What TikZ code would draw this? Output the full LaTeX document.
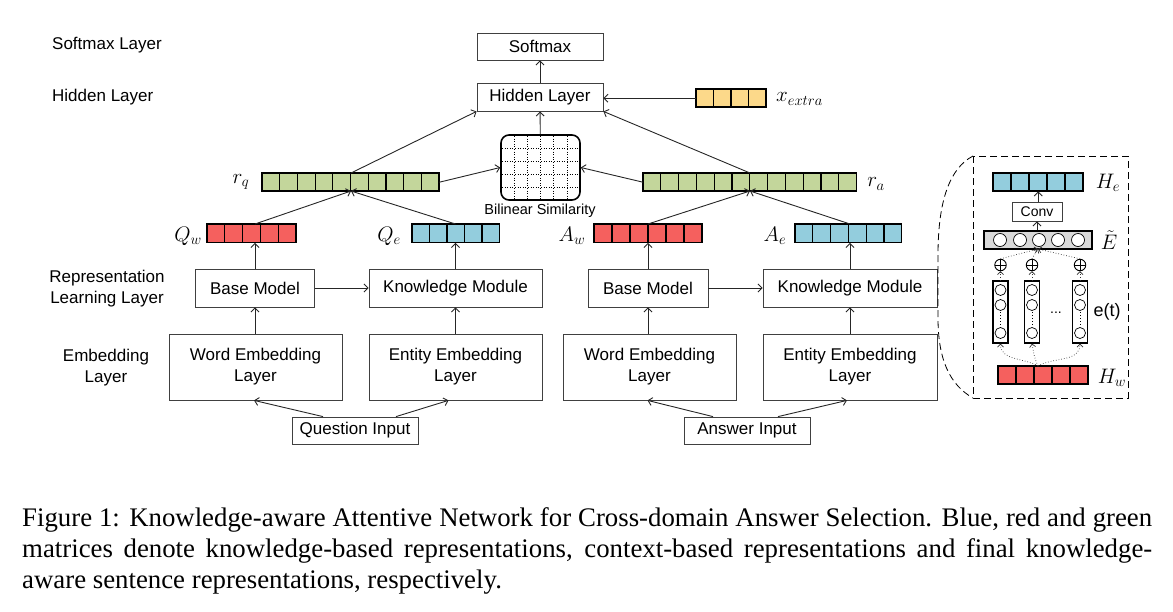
\RequirePackage{fix-cm}
\documentclass[tikz,border=0pt]{standalone}
\usepackage{fontspec}
\setmainfont{Liberation Serif}
\newfontfamily\arialf{Liberation Sans}
\usetikzlibrary{arrows.meta,calc}
\definecolor{cred}{HTML}{F5605E}
\definecolor{cblue}{HTML}{93CDDD}
\definecolor{cgreen}{HTML}{C3D69B}
\definecolor{cyellow}{HTML}{FCD98A}
\definecolor{cgray}{HTML}{D9D9D9}
\newcommand{\mycellrow}[7]{%
  \foreach \i in {1,...,#4} {\draw[cellbox,fill=#7] ({#2+(\i-1)*#5},#3) rectangle ++(#5,#6);}
  \node[inner sep=0pt,minimum width={#4*#5pt},minimum height={#6pt},anchor=north west] (#1) at (#2,#3) {};
}
\begin{document}
\begin{tikzpicture}[x=1pt,y=-1pt,
  box/.style={draw=black!75,line width=0.8pt,inner sep=0pt,align=center,font=\arialf\fontsize{17}{21}\selectfont},
  lbl/.style={font=\arialf\fontsize{17}{21}\selectfont,align=center,inner sep=0pt},
  mlbl/.style={font=\fontsize{21}{24}\selectfont,inner sep=0pt},
  arr/.style={draw=black!85,line width=0.9pt,-{Straight Barb[length=4pt,width=8pt]}},
  darr/.style={draw=black!80,line width=0.7pt,dotted,-{Straight Barb[length=3pt,width=6pt]}},
  cellbox/.style={draw=black,line width=1.2pt},
  oplus/.style={circle,draw=black,line width=0.9pt,minimum size=11.5pt,inner sep=0pt,
    path picture={\draw[line width=0.9pt] (path picture bounding box.north) -- (path picture bounding box.south)
      (path picture bounding box.west) -- (path picture bounding box.east);}},
  dot/.style={circle,draw=black,line width=0.7pt,fill=white,inner sep=0pt}
]
\useasboundingbox (0,0) rectangle (1173,611);

% left layer labels
\node[lbl,anchor=west] (lsoft) at (52,45) {Softmax Layer};
\node[lbl,anchor=west] (lhid) at (52,97) {Hidden Layer};
\node[lbl] (lrep) at (107,289) {Representation\\Learning Layer};
\node[lbl] (lemb) at (106,368) {Embedding\\Layer};

% top boxes
\node[box,minimum width=126pt,minimum height=27pt] (soft) at (540,46.5) {Softmax};
\node[box,minimum width=126pt,minimum height=28pt] (hid) at (540,97) {Hidden Layer};

% bilinear similarity
\node[draw=black,line width=1.6pt,rounded corners=8pt,minimum width=79pt,minimum height=65pt,inner sep=0pt] (bil) at (540.5,167.5) {};
\foreach \k in {1,...,5} {\draw[dotted,line width=0.6pt] ({501+\k*79/6},136) -- ({501+\k*79/6},199);}
\foreach \k in {1,...,4} {\draw[dotted,line width=0.6pt] (502,{135+\k*13}) -- (579,{135+\k*13});}
\node[font=\arialf\fontsize{14.5}{17}\selectfont,inner sep=0pt] (bill) at (540,211) {Bilinear Similarity};

% cell rows
\mycellrow{rq}{262}{173}{10}{17.7}{18}{cgreen}
\mycellrow{ra}{643}{173}{12}{17.8}{18}{cgreen}
\mycellrow{qw}{207}{224}{5}{17.8}{18.5}{cred}
\mycellrow{qe}{412}{224}{5}{17.5}{18.5}{cblue}
\mycellrow{aw}{594}{224}{6}{18}{18.5}{cred}
\mycellrow{ae}{795}{224}{6}{17.8}{18.5}{cblue}
\mycellrow{xe}{696}{89}{4}{17.5}{18}{cyellow}

% math labels
\node[mlbl] (lrq) at (241,182) {$r_q$};
\node[mlbl] (lra) at (876,184) {$r_a$};
\node[mlbl] (lqw) at (188,236) {$Q_w$};
\node[mlbl] (lqe) at (389,236) {$Q_e$};
\node[mlbl] (law) at (572,236) {$A_w$};
\node[mlbl] (lae) at (775,236) {$A_e$};
\node[mlbl,anchor=west] (lxe) at (776,99) {$x_{extra}$};

% question side boxes
\node[box,minimum width=119pt,minimum height=38pt] (baseQ) at (255,288) {Base Model};
\node[box,minimum width=173pt,minimum height=38pt] (kmQ) at (455.5,288) {Knowledge Module};
\node[box,minimum width=173pt,minimum height=66pt] (wembQ) at (255.5,367) {Word Embedding\\Layer};
\node[box,minimum width=173pt,minimum height=66pt] (eembQ) at (455.5,367) {Entity Embedding\\Layer};
\node[box,minimum width=126pt,minimum height=27pt] (qin) at (355,430.5) {Question Input};

% answer side boxes
\node[box,minimum width=120pt,minimum height=38pt] (baseA) at (648,288) {Base Model};
\node[box,minimum width=174pt,minimum height=38pt] (kmA) at (850,288) {Knowledge Module};
\node[box,minimum width=173pt,minimum height=66pt] (wembA) at (649.5,367) {Word Embedding\\Layer};
\node[box,minimum width=174pt,minimum height=66pt] (eembA) at (850,367) {Entity Embedding\\Layer};
\node[box,minimum width=126pt,minimum height=27pt] (ain) at (747,430.5) {Answer Input};

% junction coordinates
\coordinate (rqtop) at (351,173);
\coordinate (rqbot) at (351,191);
\coordinate (ratop) at (750,173);
\coordinate (rabot) at (750,191);

% connectors
\draw[arr] (hid) -- (soft);
\draw[arr] (bil) -- (hid);
\draw[arr] (rqtop) -- (hid.south west);
\draw[arr] (ratop) -- (hid.south east);
\draw[arr] (xe.west) -- (hid.east |- xe.west);
\draw[arr] (rq.east) -- (bil.west);
\draw[arr] (ra.west) -- (bil.east);
\draw[arr] (qw.north -| baseQ.north) -- (rqbot);
\draw[arr] (qe.north -| kmQ.north) -- (rqbot);
\draw[arr] (aw.north -| baseA.north) -- (rabot);
\draw[arr] (ae.north -| kmA.north) -- (rabot);
\draw[arr] (baseQ) -- (baseQ.north |- qw.south);
\draw[arr] (kmQ) -- (kmQ.north |- qe.south);
\draw[arr] (baseA) -- (baseA.north |- aw.south);
\draw[arr] (kmA) -- (kmA.north |- ae.south);
\draw[arr] (wembQ.north -| baseQ.south) -- (baseQ.south);
\draw[arr] (eembQ) -- (kmQ);
\draw[arr] (wembA.north -| baseA.south) -- (baseA.south);
\draw[arr] (eembA) -- (kmA);
\draw[arr] (baseQ) -- (kmQ);
\draw[arr] (baseA) -- (kmA);
\draw[arr] ($(qin.north)+(-32,0)$) -- ($(wembQ.south)+(-1.5,0)$);
\draw[arr] ($(qin.north)+(41,0)$) -- ($(eembQ.south)+(-7,0)$);
\draw[arr] ($(ain.north)+(-34,0)$) -- ($(wembA.south)+(-2,0)$);
\draw[arr] ($(ain.north)+(31,0)$) -- ($(eembA.south)+(-3,0)$);

% right detail panel
\draw[dashed,line width=0.8pt,dash pattern=on 7pt off 4pt] (973,156) rectangle (1128,398);
\draw[dashed,line width=0.8pt,dash pattern=on 7pt off 4pt] (973,156) .. controls (950,168) and (938,200) .. (938,255) -- (938,318) .. controls (938,360) and (950,385) .. (973,398);

\mycellrow{he}{993}{173}{5}{18}{18}{cblue}
\mycellrow{hw}{998}{366}{5}{18}{18}{cred}
\node[mlbl] (lhe) at (1108,183) {$H_e$};
\node[mlbl] (lhw) at (1112,378) {$H_w$};
\node[mlbl] (let) at (1109,240) {$\tilde{E}$};

\node[box,minimum width=50pt,minimum height=19pt,font=\arialf\fontsize{14}{16}\selectfont] (conv) at (1037,211.5) {Conv};
\node[draw=black,fill=cgray,line width=1.2pt,minimum width=108pt,minimum height=18pt,inner sep=0pt] (eb) at (1038,240) {};
\foreach \xx in {1000,1020,1039,1058,1078} {\node[dot,minimum size=13pt] at (\xx,240) {};}
\draw[arr] (conv.north -| he.south) -- (he.south);
\draw[arr] (eb.north -| conv.south) -- (conv.south);

\node[oplus] (p1) at (1000.5,265) {};
\node[oplus] (p2) at (1032,265) {};
\node[oplus] (p3) at (1080,265) {};
\coordinate (ebin) at (1038,249);
\draw[darr] (p1.north) -- (ebin);
\draw[darr] (p2.north) -- (ebin);
\draw[darr] (p3.north) -- (ebin);

\foreach \n/\xx in {c1/1000.5,c2/1032,c3/1080} {
  \node[draw=black,line width=1.2pt,minimum width=15pt,minimum height=62pt,inner sep=0pt] (\n) at (\xx,312) {};
  \node[dot,minimum size=11pt] at (\xx,290) {};
  \node[dot,minimum size=11pt] at (\xx,305) {};
  \node[dot,minimum size=11pt] at (\xx,333) {};
  \draw[dotted,line width=1pt] (\xx,312) -- (\xx,326);
}
\draw[darr] (c1.north) -- (p1.south);
\draw[darr] (c2.north) -- (p2.south);
\draw[darr] (c3.north) -- (p3.south);

\node[font=\arialf\fontsize{14}{16}\selectfont,inner sep=0pt] (ell) at (1056,313) {...};
\node[font=\arialf\fontsize{18}{20}\selectfont,inner sep=0pt] (let2) at (1107,312) {e(t)};

\coordinate (hwo) at (1038,366);
\draw[darr] (hwo) to[out=150,in=-90] (c1.south);
\draw[darr] (hwo) to[out=115,in=-80] (c2.south);
\draw[darr] (hwo) to[out=30,in=-90] (c3.south);

% caption
\node[anchor=base west,inner sep=0pt,font=\fontsize{26.8}{31}\selectfont] (cap1) at (22,526) {\makebox[1130pt][s]{Figure 1: Knowledge-aware Attentive Network for Cross-domain Answer Selection. Blue, red and green}};
\node[anchor=base west,inner sep=0pt,font=\fontsize{26.8}{31}\selectfont] (cap2) at (22,557) {\makebox[1130pt][s]{matrices denote knowledge-based representations, context-based representations and final knowledge-}};
\node[anchor=base west,inner sep=0pt,font=\fontsize{26.8}{31}\selectfont] (cap3) at (22,588) {aware sentence representations, respectively.};
\end{tikzpicture}
\end{document}
